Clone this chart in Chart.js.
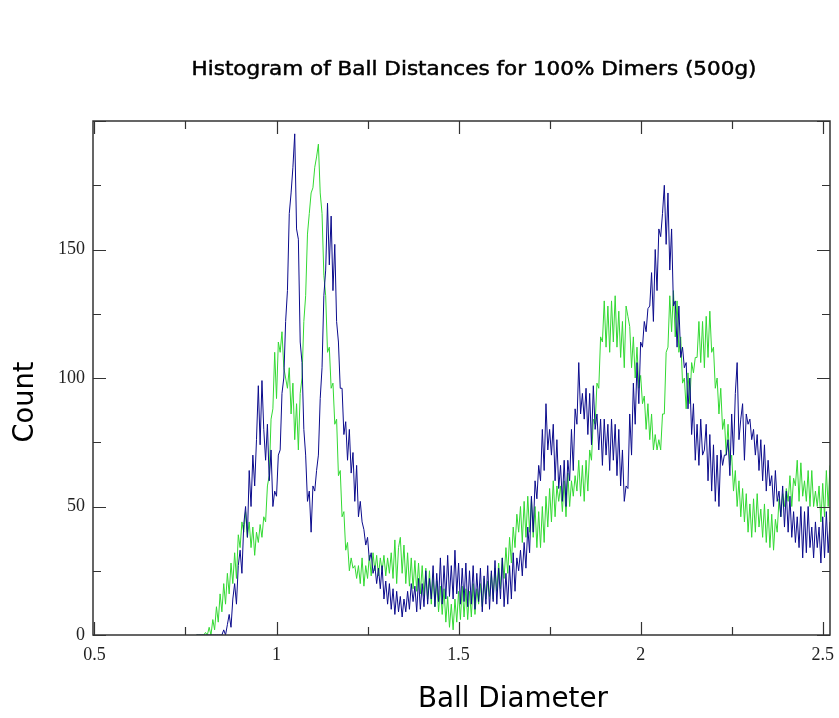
<!DOCTYPE html>
<html>
<head>
<meta charset="utf-8">
<script src="https://cdn.jsdelivr.net/npm/chart.js@4"></script>
<style>
  body { margin: 0; background: #fff; }
  #wrap { width: 839px; height: 718px; }
</style>
</head>
<body>
<div id="wrap"><canvas id="histChart"></canvas></div>
<script>
// histogram bins: first bin centre and bin width (Ball Diameter)
const binStart = 0.78;
const binWidth = 0.005;

// counts per bin, blue run
const blueCounts = [
  0,0,0,0,0,0,0,0,0,0,0,0,0,0,0,2,0,4,8,3,
  14,20,12,27,33,24,43,50,38,64,50,70,58,76,97,74,99,80,68,82,
  60,72,50,56,54,70,72,94,100,122,134,164,172,182,195,158,154,114,106,80,
  70,52,56,40,58,56,64,70,92,104,132,142,168,144,163,134,152,122,114,96,
  96,78,83,68,80,63,71,52,66,46,52,44,41,35,38,29,32,24,27,20,
  26,18,27,14,21,12,20,10,18,8,17,9,15,7,14,9,17,10,20,13,
  19,9,22,10,20,11,25,12,22,14,27,11,24,13,30,12,27,14,31,15,
  27,14,33,16,28,12,26,13,28,11,25,12,27,10,24,13,26,9,23,12,
  27,10,25,13,29,12,26,14,30,11,24,12,27,14,32,17,30,25,33,23,
  36,26,42,32,54,40,60,53,66,60,80,64,90,72,80,70,82,60,76,57,
  66,52,68,50,68,60,80,64,88,82,106,86,94,84,96,78,94,74,97,80,
  86,72,84,66,84,70,82,64,84,68,82,62,80,58,72,52,58,57,86,70,
  98,82,106,90,114,112,122,118,127,128,141,122,150,134,158,155,164,175,152,172,
  142,158,128,130,112,128,108,112,104,106,88,100,78,90,68,82,66,84,70,72,
  82,60,78,56,74,52,70,50,72,66,70,70,76,62,86,70,94,106,76,84,
  90,68,86,82,84,76,80,70,78,64,76,60,74,56,68,58,62,50,64,52,
  56,46,58,42,56,40,54,38,48,36,46,34,50,30,48,32,50,34,42,30,
  44,34,42,28,46,30,48,32,44
];

// counts per bin, green run
const greenCounts = [
  0,0,0,0,0,1,0,3,0,6,2,11,5,16,9,20,12,24,16,28,
  20,32,22,39,34,44,40,48,38,44,34,42,31,40,36,43,38,46,44,58,
  62,84,88,110,92,114,110,118,104,100,96,104,86,98,76,90,72,94,100,122,
  132,156,164,172,174,182,186,191,172,164,140,132,110,112,96,98,82,84,62,64,
  46,48,33,36,25,30,26,27,22,27,20,30,19,27,22,31,23,32,25,31,
  23,30,25,31,23,30,24,32,22,37,20,34,38,24,35,20,32,19,30,18,
  29,17,28,16,27,15,26,14,25,12,23,11,21,9,19,8,18,5,15,3,
  12,2,14,5,17,6,19,7,18,6,17,7,20,8,18,12,20,11,22,14,
  21,15,24,14,26,17,28,18,30,22,34,24,38,28,42,34,47,40,50,36,
  52,38,54,40,53,38,50,34,48,34,50,36,54,42,57,44,60,46,58,52,
  58,48,60,46,63,50,60,54,62,56,68,54,66,52,68,56,72,68,84,82,
  98,96,116,114,130,112,128,110,130,114,132,112,126,108,122,104,128,124,120,104,
  116,100,112,96,101,90,93,80,90,76,86,72,78,72,76,72,86,86,110,112,
  132,118,134,116,130,110,116,98,100,88,102,90,106,102,108,108,122,106,122,104,
  124,108,126,110,112,96,100,86,96,80,84,70,82,66,70,56,64,50,60,46,
  57,44,55,40,51,38,53,40,55,42,49,38,51,36,49,34,47,33,45,40,
  53,46,55,50,57,52,62,50,61,58,68,52,67,54,60,52,64,50,64,50,
  56,50,58,44,59,46,64,50,66
];

const xTickLabels = [0.5, 1, 1.5, 2, 2.5];
const xMinorTicks = [0.75, 1.25, 1.75, 2.25];
const yTickLabels = [0, 50, 100, 150];
const yMinorTicks = [25, 75, 125, 175];

const titleText = 'Histogram of Ball Distances for 100% Dimers (500g)';
const xTitle = 'Ball Diameter';
const yTitle = 'Count';

function toPoints(counts) {
  return counts.map((c, i) => ({ x: +(binStart + i * binWidth).toFixed(3), y: c }));
}

// text squeezed/stretched to the width it has in the original
function fitText(ctx, text, x, y, width, font, rotate, heavy) {
  ctx.save();
  ctx.font = font;
  ctx.fillStyle = '#000';
  ctx.strokeStyle = '#000';
  ctx.textAlign = 'center';
  ctx.textBaseline = 'alphabetic';
  const w = ctx.measureText(text).width;
  ctx.translate(x, y);
  if (rotate) ctx.rotate(-Math.PI / 2);
  ctx.scale(width / w, 1);
  ctx.fillText(text, 0, 0);
  if (heavy) {
    ctx.lineWidth = heavy;
    ctx.strokeText(text, 0, 0);
  }
  ctx.restore();
}

const frameAndLabels = {
  id: 'frameAndLabels',
  afterDraw(chart) {
    const ctx = chart.ctx;
    const a = chart.chartArea;
    const xs = chart.scales.x, ys = chart.scales.y;
    ctx.save();
    ctx.strokeStyle = '#333';
    ctx.lineWidth = 1.5;
    ctx.strokeRect(a.left, a.top, a.right - a.left, a.bottom - a.top);

    // inward tick marks on all four sides
    const tick = (vals, len, vertical) => {
      ctx.beginPath();
      vals.forEach(v => {
        if (vertical) {
          const px = Math.round(xs.getPixelForValue(v)) + 0.5;
          ctx.moveTo(px, a.bottom); ctx.lineTo(px, a.bottom - len);
          ctx.moveTo(px, a.top); ctx.lineTo(px, a.top + len);
        } else {
          const py = Math.round(ys.getPixelForValue(v)) + 0.5;
          ctx.moveTo(a.left, py); ctx.lineTo(a.left + len, py);
          ctx.moveTo(a.right, py); ctx.lineTo(a.right - len, py);
        }
      });
      ctx.stroke();
    };
    ctx.lineWidth = 1.2;
    tick(xTickLabels, 13, true);
    tick(xMinorTicks, 8, true);
    tick(yTickLabels.concat([200]), 13, false);
    tick(yMinorTicks, 8, false);
    ctx.restore();

    fitText(ctx, titleText, 474, 75, 565, '20px "DejaVu Sans"', false, 0.5);
    fitText(ctx, xTitle, 513, 707, 190, '28px "DejaVu Sans"', false, 0);
    fitText(ctx, yTitle, 33, 402, 81, '28px "DejaVu Sans"', true, 0);
  }
};

new Chart(document.getElementById('histChart'), {
  type: 'line',
  data: {
    datasets: [
      {
        label: 'blue',
        data: toPoints(blueCounts),
        borderColor: '#0b0b8c',
        borderWidth: 1,
        pointRadius: 0,
        tension: 0,
        fill: false
      },
      {
        label: 'green',
        data: toPoints(greenCounts),
        borderColor: '#33d933',
        borderWidth: 1,
        pointRadius: 0,
        tension: 0,
        fill: false
      }
    ]
  },
  options: {
    responsive: true,
    maintainAspectRatio: false,
    animation: false,
    events: [],
    layout: { padding: { top: 121, right: 9, bottom: 0, left: 0 } },
    plugins: {
      legend: { display: false },
      tooltip: { enabled: false },
      title: { display: false }
    },
    scales: {
      x: {
        type: 'linear',
        min: 0.496,
        max: 2.52,
        grid: { display: false, drawTicks: false },
        border: { display: false },
        afterBuildTicks: s => { s.ticks = xTickLabels.map(v => ({ value: v })); },
        afterFit: s => { s.height = 83; s.paddingLeft = 0; s.paddingRight = 0; },
        ticks: {
          autoSkip: false,
          maxRotation: 0,
          padding: 9,
          color: '#222',
          font: { family: '"Liberation Serif", "DejaVu Serif", serif', size: 18 },
          callback: v => String(v)
        }
      },
      y: {
        min: 0,
        max: 200,
        grid: { display: false, drawTicks: false },
        border: { display: false },
        afterBuildTicks: s => { s.ticks = yTickLabels.map(v => ({ value: v })); },
        afterFit: s => { s.width = 93; s.paddingTop = 0; s.paddingBottom = 0; },
        ticks: {
          padding: 8,
          color: '#222',
          font: { family: '"Liberation Serif", "DejaVu Serif", serif', size: 18 },
          callback: v => String(v)
        }
      }
    }
  },
  plugins: [frameAndLabels]
});
</script>
</body>
</html>
